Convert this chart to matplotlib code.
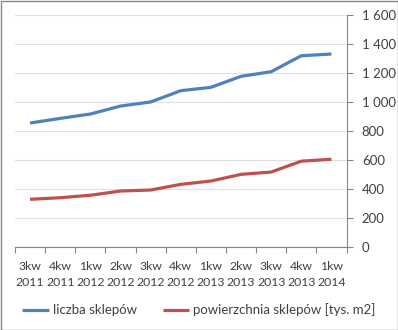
import matplotlib
matplotlib.use("Agg")
import matplotlib.pyplot as plt
from matplotlib.patches import Rectangle

categories = ["3kw\n2011", "4kw\n2011", "1kw\n2012", "2kw\n2012", "3kw\n2012", "4kw\n2012",
              "1kw\n2013", "2kw\n2013", "3kw\n2013", "4kw\n2013", "1kw\n2014"]
liczba = [855, 887, 917, 972, 1000, 1078, 1101, 1177, 1209, 1319, 1331]
powierzchnia = [329, 340, 357, 386, 393, 432, 455, 501, 517, 592, 605]
yticks = [0, 200, 400, 600, 800, 1000, 1200, 1400, 1600]

plt.rcParams['font.family'] = ['Lato', 'DejaVu Sans']

fig = plt.figure(figsize=(3.98, 3.30), dpi=100)
ax = fig.add_axes([15/398, 1-247/330, (346.5-15)/398, 232/330])

x = list(range(len(categories)))
ax.plot(x, liczba, color="#4F81BD", lw=2.3, solid_capstyle="butt", label="liczba sklepów")
ax.plot(x, powierzchnia, color="#C0504D", lw=2.3, solid_capstyle="butt", label="powierzchnia sklepów [tys. m2]")

ax.set_xlim(-0.5, len(categories)-0.5)
ax.set_ylim(0, 1600)
ax.yaxis.tick_right()
ax.set_yticks(yticks)
ax.set_yticklabels([f"{v:,}".replace(",", " ") for v in yticks])
ax.set_xticks(x)
ax.set_xticklabels(categories, linespacing=1.55)
ax.set_xticks([i-0.5 for i in range(len(categories)+1)], minor=True)
ax.tick_params(axis='x', which='major', length=0, pad=10, labelsize=8.8, colors="#404040")
ax.tick_params(axis='x', which='minor', length=4, color="#868686", width=0.8)
ax.tick_params(axis='y', length=4, color="#868686", width=0.8, pad=7, labelsize=9.5, labelcolor="#404040")

for s in ["top", "left"]:
    ax.spines[s].set_visible(False)
ax.spines["right"].set_color("#868686")
ax.spines["bottom"].set_color("#868686")
ax.spines["right"].set_linewidth(0.8)
ax.spines["bottom"].set_linewidth(0.8)
ax.grid(axis='y', color="#E0E0E0", lw=0.8)
ax.set_axisbelow(True)

leg = fig.legend(loc="center", bbox_to_anchor=(0.5, 1-310/330), ncol=2, frameon=False,
                 fontsize=9.5, handlelength=2.0, handletextpad=0.3, columnspacing=2.0,
                 labelcolor="#404040")

fig.patches.append(Rectangle((0.5/398, 0.5/330), 1-1/398, 1-1/330, transform=fig.transFigure,
                             fill=False, edgecolor="#868686", lw=1))

fig.savefig("out.png", dpi=100)
